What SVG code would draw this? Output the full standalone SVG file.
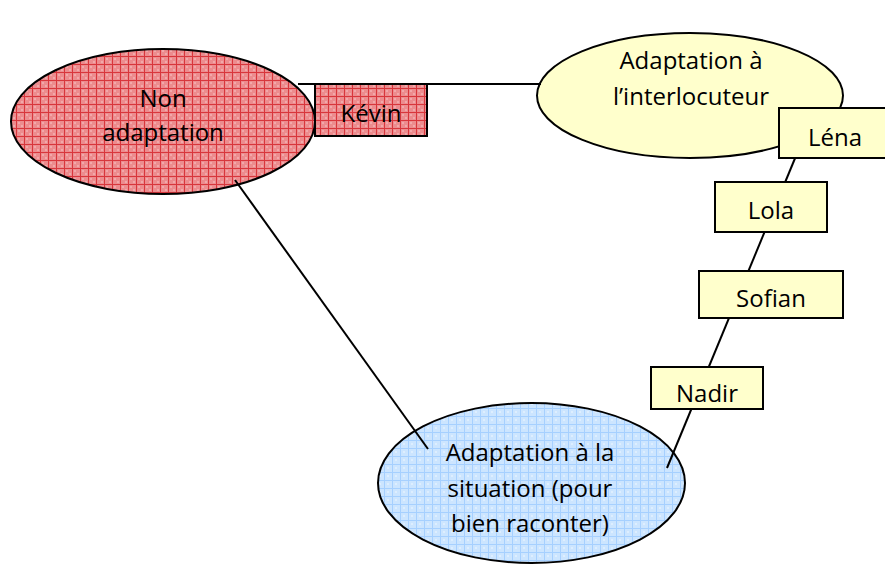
<svg xmlns="http://www.w3.org/2000/svg" width="885" height="565" viewBox="0 0 885 565">
<defs>
<pattern id="redGrid" width="8" height="8" patternUnits="userSpaceOnUse">
<rect width="8" height="8" fill="#EC8C8E"/>
<rect x="2" y="2" width="2" height="2" fill="#F2A8AA"/>
<rect x="5" y="5" width="2" height="2" fill="#F2A8AA"/>
<path d="M0 0.5H8M0.5 0V8" stroke="#D8363C" stroke-width="1"/>
</pattern>
<pattern id="blueGrid" width="8" height="8" patternUnits="userSpaceOnUse">
<rect width="8" height="8" fill="#CCE5FF"/>
<rect x="3" y="3" width="2" height="2" fill="#DDEEFF"/>
<path d="M0 0.5H8M0.5 0V8" stroke="#A6D0FF" stroke-width="1"/>
</pattern>
<style>
.shape{stroke:#000;stroke-width:2}
.red{fill:url(#redGrid)}
.blue{fill:url(#blueGrid)}
.yel{fill:#FFFFCC}
.lbl{font-family:"Open Sans","Liberation Sans",sans-serif;font-size:24px;fill:#000;text-anchor:middle}
.conn{stroke:#000;stroke-width:2;fill:none}
</style>
</defs>
<rect width="885" height="565" fill="#fff"/>
<g id="node-non-adaptation">
<ellipse class="shape red" cx="163" cy="121.5" rx="152" ry="72.5"/>
<text class="lbl" x="163" y="107">Non</text>
<text class="lbl" x="163" y="141">adaptation</text>
</g>
<g id="node-interlocuteur">
<ellipse class="shape yel" cx="690" cy="95.5" rx="153" ry="62.5"/>
<text class="lbl" x="691" y="69">Adaptation à</text>
<text class="lbl" x="691" y="105">l’interlocuteur</text>
</g>
<g id="node-situation">
<ellipse class="shape blue" cx="531.5" cy="483" rx="153.5" ry="80"/>
<text class="lbl" x="530" y="461">Adaptation à la</text>
<text class="lbl" x="530" y="497">situation (pour</text>
<text class="lbl" x="530" y="532">bien raconter)</text>
</g>
<g id="connectors">
<line class="conn" x1="298" y1="84" x2="541" y2="84"/>
<line class="conn" x1="235" y1="180" x2="428" y2="449"/>
<line class="conn" x1="803" y1="139" x2="667" y2="468"/>
</g>
<g id="node-kevin">
<rect class="shape red" x="315" y="84" width="112" height="52"/>
<text class="lbl" x="371" y="122">Kévin</text>
</g>
<g id="node-lena">
<rect class="shape yel" x="779" y="108" width="112" height="50"/>
<text class="lbl" x="835" y="146">Léna</text>
</g>
<g id="node-lola">
<rect class="shape yel" x="715" y="182" width="112" height="50"/>
<text class="lbl" x="771" y="219">Lola</text>
</g>
<g id="node-sofian">
<rect class="shape yel" x="699" y="271" width="144" height="47"/>
<text class="lbl" x="771" y="307">Sofian</text>
</g>
<g id="node-nadir">
<rect class="shape yel" x="651" y="367" width="112" height="42"/>
<text class="lbl" x="707" y="402">Nadir</text>
</g>
</svg>
